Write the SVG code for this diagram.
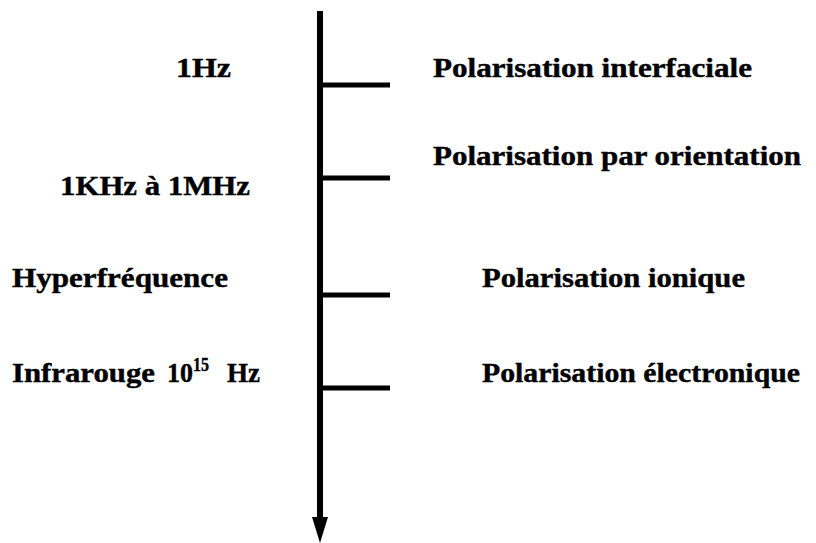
<svg xmlns="http://www.w3.org/2000/svg" width="816" height="543" viewBox="0 0 816 543">
  <style>
    .lbl { font-family: "Liberation Serif", "Times New Roman", serif; font-weight: 700; font-size: 27px; fill: #000; stroke: #000; stroke-width: 0.4; }
    .sup { font-size: 18px; }
    .axis { stroke: #000; stroke-width: 6; fill: none; }
    .tick { stroke: #000; stroke-width: 5; fill: none; }
  </style>

  <!-- frequency axis with tick marks -->
  <g id="connectors">
    <line class="axis" x1="320" y1="11" x2="320" y2="522"/>
    <polygon points="312,517 328,517 320,543" fill="#000"/>
    <line class="tick" x1="320" y1="85" x2="390" y2="85"/>
    <line class="tick" x1="320" y1="178" x2="390" y2="178"/>
    <line class="tick" x1="320" y1="295" x2="390" y2="295"/>
    <line class="tick" x1="320" y1="388" x2="390" y2="388"/>
  </g>

  <!-- frequency labels -->
  <g id="freq-1hz">
    <text class="lbl" x="176" y="77" textLength="55" lengthAdjust="spacingAndGlyphs">1Hz</text>
  </g>
  <g id="freq-khz-mhz">
    <text class="lbl" x="60" y="195" textLength="190" lengthAdjust="spacingAndGlyphs">1KHz à 1MHz</text>
  </g>
  <g id="freq-hyper">
    <text class="lbl" x="12" y="287" textLength="216" lengthAdjust="spacingAndGlyphs">Hyperfréquence</text>
  </g>
  <g id="freq-ir">
    <text class="lbl" x="12" y="382" textLength="143" lengthAdjust="spacingAndGlyphs">Infrarouge</text>
    <text class="lbl" x="167" y="382" textLength="26" lengthAdjust="spacingAndGlyphs">10</text>
    <text class="lbl sup" x="193" y="371" textLength="16" lengthAdjust="spacingAndGlyphs">15</text>
    <text class="lbl" x="227" y="382" textLength="33" lengthAdjust="spacingAndGlyphs">Hz</text>
  </g>

  <!-- polarisation mechanisms -->
  <g id="pol-interfaciale">
    <text class="lbl" x="433" y="77" textLength="319" lengthAdjust="spacingAndGlyphs">Polarisation interfaciale</text>
  </g>
  <g id="pol-orientation">
    <text class="lbl" x="433" y="165" textLength="368" lengthAdjust="spacingAndGlyphs">Polarisation par orientation</text>
  </g>
  <g id="pol-ionique">
    <text class="lbl" x="482" y="287" textLength="263" lengthAdjust="spacingAndGlyphs">Polarisation ionique</text>
  </g>
  <g id="pol-electronique">
    <text class="lbl" x="482" y="382" textLength="318" lengthAdjust="spacingAndGlyphs">Polarisation électronique</text>
  </g>
</svg>
